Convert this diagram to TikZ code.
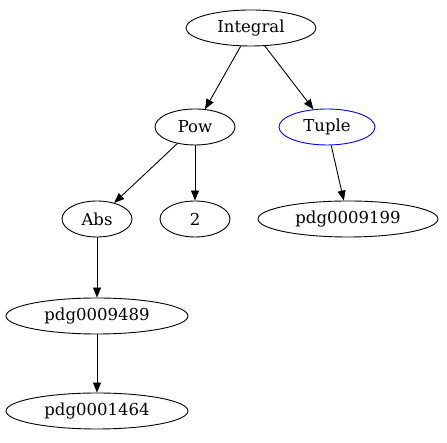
\documentclass[tikz,border=0pt]{standalone}
\usepackage{fontspec}
\setmainfont{DejaVu Serif}
\usetikzlibrary{shapes.geometric,arrows.meta}
\begin{document}
\begin{tikzpicture}[x=1pt,y=1pt,
    tnode/.style={ellipse, draw, line width=0.9pt, inner sep=0pt, minimum height=36pt, font=\fontsize{16.5}{18}\selectfont},
    tedge/.style={line width=0.9pt, -{Triangle[length=10pt,width=8pt]}}]
  % Fix the page size
  \useasboundingbox (0,0) rectangle (447,443);

  % Define the nodes of the tree
  \node[tnode, minimum width=130pt] (integral) at (251,415) {Integral};
  \node[tnode, minimum width=80pt] (pow) at (195,316) {Pow};
  \node[tnode, minimum width=96pt, draw=blue] (tuple) at (327,316) {Tuple};
  \node[tnode, minimum width=70pt] (abs) at (97,224) {Abs};
  \node[tnode, minimum width=70pt] (two) at (195,224) {2};
  \node[tnode, minimum width=180pt] (pdgA) at (348,224) {pdg0009199};
  \node[tnode, minimum width=182pt] (pdgB) at (97,127) {pdg0009489};
  \node[tnode, minimum width=182pt] (pdgC) at (97,32) {pdg0001464};

  % Connect them
  \draw[tedge] (integral) -- (pow);
  \draw[tedge] (integral) -- (tuple);
  \draw[tedge] (pow) -- (abs);
  \draw[tedge] (pow) -- (two);
  \draw[tedge] (tuple) -- (pdgA);
  \draw[tedge] (abs) -- (pdgB);
  \draw[tedge] (pdgB) -- (pdgC);
\end{tikzpicture}
\end{document}
